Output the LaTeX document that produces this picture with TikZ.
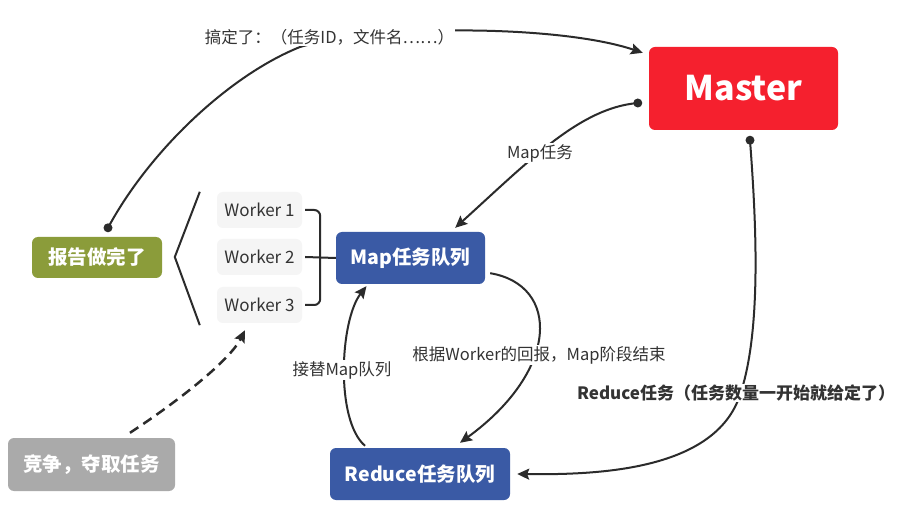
\documentclass[tikz,border=0pt]{standalone}
\usepackage{fontspec}
\setmainfont{Noto Sans CJK SC}
\usetikzlibrary{arrows.meta}
\definecolor{masterred}{RGB}{245,32,46}
\definecolor{queueblue}{RGB}{58,90,165}
\definecolor{donegreen}{RGB}{139,156,58}
\definecolor{grabgrey}{RGB}{170,170,170}
\definecolor{workerbg}{RGB}{245,245,245}
\definecolor{ink}{RGB}{43,43,43}
\definecolor{labelink}{RGB}{51,51,51}
\tikzset{
  box/.style={rounded corners=6, text=white, inner sep=0, font=\bfseries\fontsize{19.5}{22}\selectfont},
  workerbox/.style={fill=workerbg, rounded corners=6, minimum width=85, minimum height=36, inner sep=0, text=labelink, font=\fontsize{17}{20}\selectfont},
  link/.style={draw=ink, line width=2, -{Stealth[length=12,width=11,inset=2]}},
  tag/.style={fill=white, text=labelink, inner sep=1, font=\fontsize{16.5}{19}\selectfont},
}
\begin{document}
\begin{tikzpicture}[x=1pt,y=-1pt]
\useasboundingbox[fill=white] (0,0) rectangle (910,510);
\node[box, fill=masterred, minimum width=189, minimum height=83, font=\bfseries\fontsize{34}{38}\selectfont] (master) at (743.5,88.5) {Master};
\node[box, fill=queueblue, minimum width=149, minimum height=52] (mapq) at (410.5,258) {Map任务队列};
\node[box, fill=queueblue, minimum width=180, minimum height=52] (redq) at (420,474) {Reduce任务队列};
\node[box, fill=donegreen, minimum width=130, minimum height=41] (done) at (97,257.5) {报告做完了};
\node[box, fill=grabgrey, minimum width=167, minimum height=53] (grab) at (91.5,464.5) {竞争，夺取任务};
\node[workerbox] (w1) at (259.5,210) {Worker 1};
\node[workerbox] (w2) at (259.5,257) {Worker 2};
\node[workerbox] (w3) at (259.5,305) {Worker 3};
\coordinate (donetop) at ([xshift=11,yshift=9]done.north);
\coordinate (mastl) at ([xshift=-11,yshift=-14.5]master.west);
\coordinate (mastb) at ([xshift=6.5,yshift=-10]master.south);
\draw[ink, line width=2] ([xshift=-17]w1.north west) -- ([xshift=-42]w2.west) -- ([xshift=-17,yshift=-2]w3.south west);
\draw[ink, line width=2, rounded corners=6] ([xshift=3]w1.east) -| ([xshift=18]w2.east) |- ([xshift=3]w3.east);
\draw[ink, line width=2] ([xshift=3]w2.east) -- (mapq.west);
\draw[link] (donetop) .. controls (150,150) and (230,75) .. (300,47) .. controls (380,24) and (560,25) .. ([xshift=-6,yshift=-6]master.north west);
\draw[link] (mastl) .. controls (580,108) and (530,160) .. ([xshift=-30,yshift=4]mapq.north east);
\draw[link] (mastb) .. controls (756,220) and (762,330) .. (740,395) .. controls (715,470) and (600,475) .. ([xshift=7]redq.east);
\draw[link] ([xshift=5,yshift=11]mapq.south east) .. controls (560,285) and (560,370) .. ([xshift=40,yshift=5]redq.north);
\draw[link] ([xshift=-55,yshift=2]redq.north) .. controls (335,420) and (340,320) .. ([xshift=-44,yshift=-2]mapq.south);
\draw[link, line width=2.5, dash pattern=on 10 off 6] ([xshift=38.5,yshift=5]grab.north) .. controls (180,400) and (230,360) .. ([xshift=-14.5,yshift=-7]w3.south);
\node[tag] (donetag) at (329.5,37) {搞定了：（任务ID，文件名……）};
\node[tag] (maptag) at (540,153) {Map任务};
\node[tag] (swaptag) at (342,370) {接替Map队列};
\node[tag] (endtag) at (539,355) {根据Worker的回报，Map阶段结束};
\node[tag, font=\bfseries\fontsize{17}{20}\selectfont] (redtag) at (736,393) {Reduce任务（任务数量一开始就给定了）};
\foreach \p in {(donetop), (mastl), (mastb)}{
  \fill[ink] \p circle (4.5);
}
\end{tikzpicture}
\end{document}
